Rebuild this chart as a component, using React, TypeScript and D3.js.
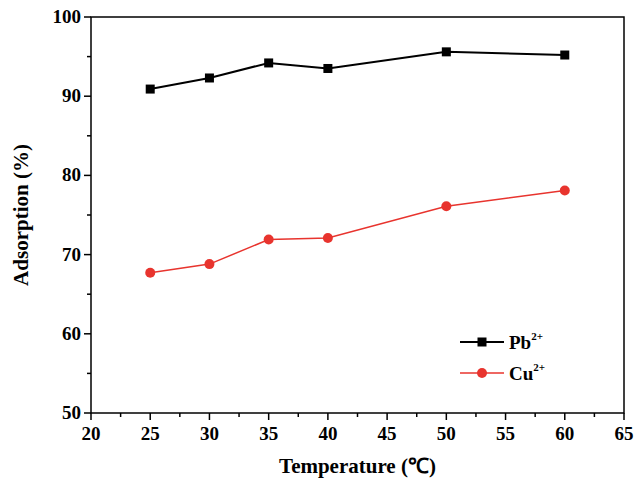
import * as d3 from "d3";

const temps = [25, 30, 35, 40, 50, 60];
const pbValues = [90.9, 92.3, 94.2, 93.5, 95.6, 95.2];
const cuValues = [67.7, 68.8, 71.9, 72.1, 76.1, 78.1];
const xTicks = [20, 25, 30, 35, 40, 45, 50, 55, 60, 65];
const yTicks = [50, 60, 70, 80, 90, 100];

const W = 636, H = 486;
const M = { left: 91, right: 12, top: 17, bottom: 73 };
const FONT = "'Liberation Serif', 'Times New Roman', serif";

export default function App() {
  const x = d3.scaleLinear().domain([20, 65]).range([M.left, W - M.right]);
  const y = d3.scaleLinear().domain([50, 100]).range([H - M.bottom, M.top]);
  const line = d3.line<number>().x((_, i) => x(temps[i])).y((d) => y(d));
  const xMinor = d3.range(22.5, 65, 5);
  const yMinor = d3.range(55, 100, 10);
  const b = H - M.bottom;

  return (
    <svg width={W} height={H} style={{ position: "absolute", left: 0, top: 0, background: "#fff" }} fontFamily={FONT}>
      <rect x={M.left} y={M.top} width={W - M.left - M.right} height={b - M.top} fill="none" stroke="#000" strokeWidth={1.5} />
      {xTicks.map((t) => (
        <g key={t}>
          <line x1={x(t)} x2={x(t)} y1={b} y2={b + 7} stroke="#000" strokeWidth={1.5} />
          <text x={x(t)} y={b + 27} textAnchor="middle" fontSize={19} fontWeight="bold">{t}</text>
        </g>
      ))}
      {xMinor.map((t) => (
        <line key={t} x1={x(t)} x2={x(t)} y1={b} y2={b + 4} stroke="#000" strokeWidth={1.5} />
      ))}
      {yTicks.map((t) => (
        <g key={t}>
          <line x1={M.left - 7} x2={M.left} y1={y(t)} y2={y(t)} stroke="#000" strokeWidth={1.5} />
          <text x={M.left - 10} y={y(t) + 6} textAnchor="end" fontSize={19} fontWeight="bold">{t}</text>
        </g>
      ))}
      {yMinor.map((t) => (
        <line key={t} x1={M.left - 4} x2={M.left} y1={y(t)} y2={y(t)} stroke="#000" strokeWidth={1.5} />
      ))}
      <path d={line(pbValues) ?? ""} fill="none" stroke="#000" strokeWidth={2} />
      {pbValues.map((v, i) => (
        <rect key={i} x={x(temps[i]) - 4.5} y={y(v) - 4.5} width={9} height={9} fill="#000" />
      ))}
      <path d={line(cuValues) ?? ""} fill="none" stroke="#e8342e" strokeWidth={1.5} />
      {cuValues.map((v, i) => (
        <circle key={i} cx={x(temps[i])} cy={y(v)} r={5} fill="#e8342e" />
      ))}
      <g fontSize={19} fontWeight="bold">
        <line x1={460} x2={504} y1={342} y2={342} stroke="#000" strokeWidth={2} />
        <rect x={477.5} y={337.5} width={9} height={9} fill="#000" />
        <text x={509} y={349}>Pb<tspan dy={-9} fontSize={11}>2+</tspan></text>
        <line x1={460} x2={504} y1={373} y2={373} stroke="#e8342e" strokeWidth={1.5} />
        <circle cx={482} cy={373} r={5} fill="#e8342e" />
        <text x={509} y={380}>Cu<tspan dy={-9} fontSize={11}>2+</tspan></text>
      </g>
      <text x={(M.left + W - M.right) / 2} y={473} textAnchor="middle" fontSize={21} fontWeight="bold">Temperature (℃)</text>
      <text transform={`translate(28,${(M.top + b) / 2}) rotate(-90)`} textAnchor="middle" fontSize={21} fontWeight="bold">Adsorption (%)</text>
    </svg>
  );
}
